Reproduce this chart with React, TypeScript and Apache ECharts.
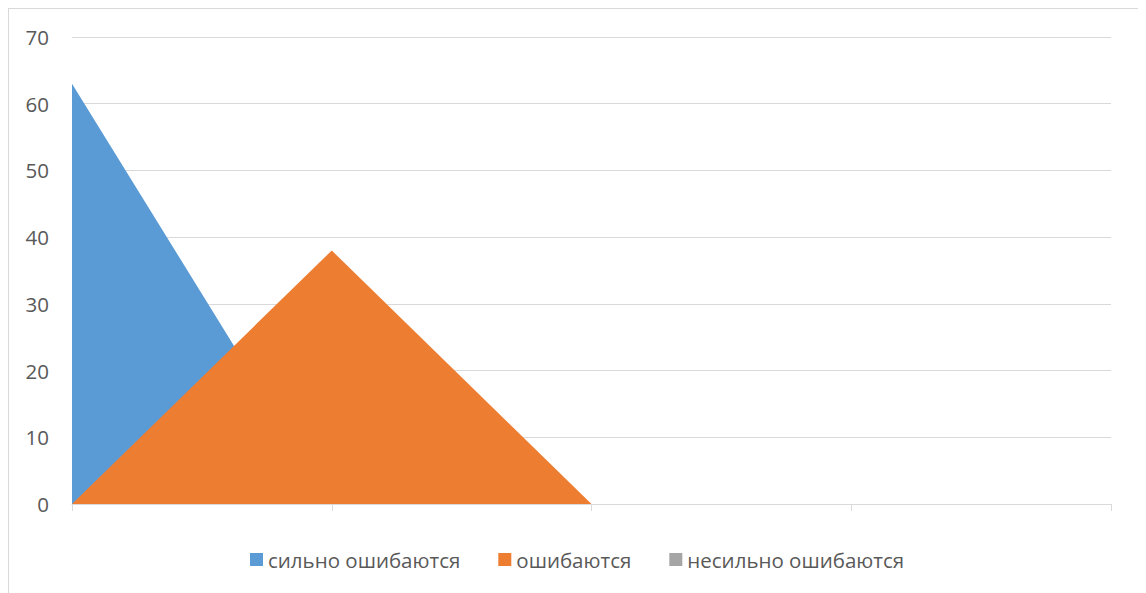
import React, { useEffect, useRef } from "react";
import * as echarts from "echarts";

const categories = ["1", "2", "3", "4", "5"];
const seriesNames = ["сильно ошибаются", "ошибаются", "несильно ошибаются"];
const strongErrors = [63, 0, 0, 0, 0];
const errors = [0, 38, 0, 0, 0];
const weakErrors = [0, 0, 0, 0, 0];
const colors = ["#5b9bd5", "#ed7d31", "#a5a5a5"];

export default function App() {
  const ref = useRef<HTMLDivElement>(null);
  useEffect(() => {
    document.body.style.overflow = "hidden";
    const chart = echarts.init(ref.current!, null, { renderer: "svg" });
    const values = [strongErrors, errors, weakErrors];
    chart.setOption({
      animation: false,
      textStyle: { fontFamily: "Open Sans" },
      grid: { left: 63, right: 29, top: 28, bottom: 90 },
      legend: {
        bottom: 19,
        left: 236,
        itemWidth: 13,
        itemHeight: 13,
        itemGap: 38,
        icon: "rect",
        textStyle: { color: "#595959", fontSize: 20.5, fontFamily: "Open Sans" },
        data: seriesNames,
      },
      xAxis: {
        type: "category",
        data: categories,
        boundaryGap: false,
        axisLine: { lineStyle: { color: "#d9d9d9", width: 1 } },
        axisTick: { show: true, length: 7, lineStyle: { color: "#d9d9d9" } },
        axisLabel: { show: false },
        splitLine: { show: false },
      },
      yAxis: {
        type: "value",
        min: 0,
        max: 70,
        interval: 10,
        axisLine: { show: false },
        axisTick: { show: false },
        axisLabel: { color: "#595959", fontSize: 20.5, margin: 23 },
        splitLine: { lineStyle: { color: "#d9d9d9", width: 1 } },
      },
      series: seriesNames.map((name, i) => ({
        name,
        type: "line",
        data: values[i],
        symbol: "none",
        lineStyle: { width: 0 },
        areaStyle: { color: colors[i], opacity: 1 },
        itemStyle: { color: colors[i] },
        z: 2 + i,
      })),
    });
    return () => chart.dispose();
  }, []);
  return (
    <div
      ref={ref}
      style={{
        width: 1131,
        height: 585,
        borderTop: "1px solid #d9d9d9",
        borderLeft: "1px solid #d9d9d9",
        borderRight: "1px solid #d9d9d9",
        background: "#fff",
      }}
    />
  );
}
